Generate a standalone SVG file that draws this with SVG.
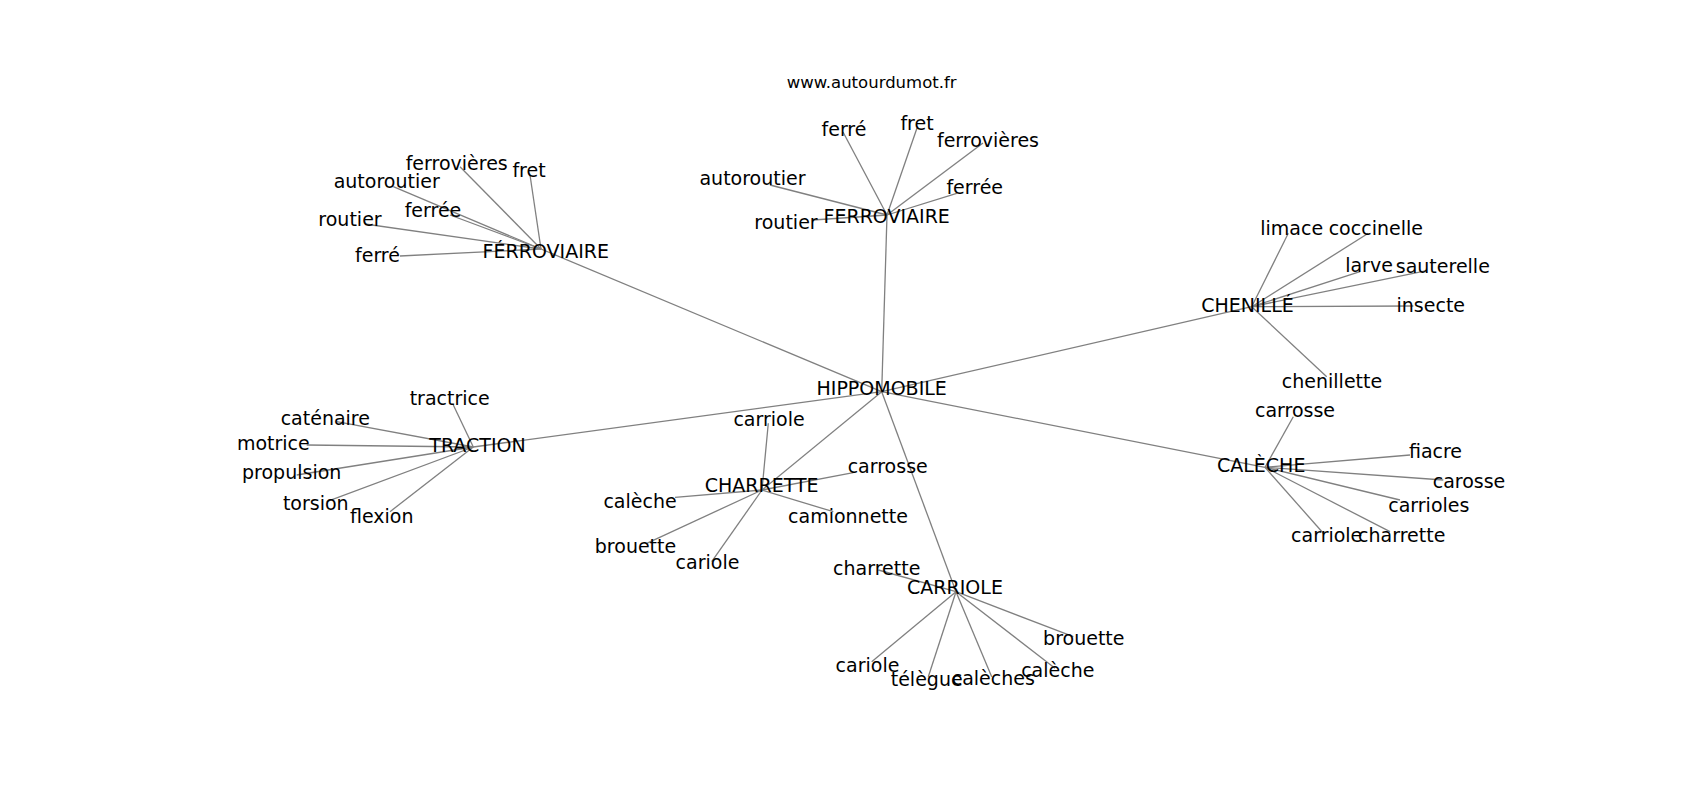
<svg xmlns="http://www.w3.org/2000/svg" width="1700" height="800" viewBox="0 0 1700 800">
<style>
.e line{stroke:#808080;stroke-width:1.3;fill:none}
text{font-family:"DejaVu Sans",sans-serif;font-size:19px;fill:#000;text-anchor:middle}
.t{font-size:16.5px}
</style>
<rect width="1700" height="800" fill="#fff"/>
<g id="connectors" class="e">
<line x1="881.7" y1="391.7" x2="887" y2="215"/>
<line x1="881.7" y1="391.7" x2="541" y2="249"/>
<line x1="881.7" y1="391.7" x2="1251.7" y2="306.7"/>
<line x1="881.7" y1="391.7" x2="1265" y2="467.3"/>
<line x1="881.7" y1="391.7" x2="473.3" y2="447"/>
<line x1="881.7" y1="391.7" x2="762" y2="490"/>
<line x1="881.7" y1="391.7" x2="956" y2="591.7"/>
<line x1="887" y1="215" x2="843" y2="132"/>
<line x1="887" y1="215" x2="917" y2="128"/>
<line x1="887" y1="215" x2="983" y2="143"/>
<line x1="887" y1="215" x2="770" y2="185"/>
<line x1="887" y1="215" x2="956.7" y2="193.3"/>
<line x1="887" y1="215" x2="813" y2="220"/>
<line x1="541" y1="249" x2="460" y2="166.7"/>
<line x1="541" y1="249" x2="530" y2="175"/>
<line x1="541" y1="249" x2="393.3" y2="186.7"/>
<line x1="541" y1="249" x2="450" y2="215"/>
<line x1="541" y1="249" x2="365" y2="224"/>
<line x1="541" y1="249" x2="400" y2="256"/>
<line x1="1251.7" y1="306.7" x2="1288.3" y2="233.3"/>
<line x1="1251.7" y1="306.7" x2="1368.3" y2="233.3"/>
<line x1="1251.7" y1="306.7" x2="1360" y2="271.7"/>
<line x1="1251.7" y1="306.7" x2="1426.7" y2="270.7"/>
<line x1="1251.7" y1="306.7" x2="1413.3" y2="306"/>
<line x1="1251.7" y1="306.7" x2="1326.7" y2="376.7"/>
<line x1="1265" y1="467.3" x2="1293.3" y2="416.7"/>
<line x1="1265" y1="467.3" x2="1410" y2="455"/>
<line x1="1265" y1="467.3" x2="1443.3" y2="480"/>
<line x1="1265" y1="467.3" x2="1400" y2="500"/>
<line x1="1265" y1="467.3" x2="1323.3" y2="533.3"/>
<line x1="1265" y1="467.3" x2="1390" y2="531.7"/>
<line x1="473.3" y1="447" x2="453.3" y2="405"/>
<line x1="473.3" y1="447" x2="336.7" y2="421.7"/>
<line x1="473.3" y1="447" x2="306.7" y2="445"/>
<line x1="473.3" y1="447" x2="296.7" y2="475"/>
<line x1="473.3" y1="447" x2="326.7" y2="501.7"/>
<line x1="473.3" y1="447" x2="390" y2="511.7"/>
<line x1="762" y1="490" x2="768.3" y2="423.3"/>
<line x1="762" y1="490" x2="853.3" y2="472.7"/>
<line x1="762" y1="490" x2="675" y2="497.3"/>
<line x1="762" y1="490" x2="833.3" y2="511.7"/>
<line x1="762" y1="490" x2="646.7" y2="543.3"/>
<line x1="762" y1="490" x2="711.7" y2="561.7"/>
<line x1="956" y1="591.7" x2="878.3" y2="570"/>
<line x1="956" y1="591.7" x2="1073.3" y2="636.7"/>
<line x1="956" y1="591.7" x2="871.7" y2="661.7"/>
<line x1="956" y1="591.7" x2="928.3" y2="676.7"/>
<line x1="956" y1="591.7" x2="991.7" y2="676.7"/>
<line x1="956" y1="591.7" x2="1055" y2="668.3"/>
</g>
<text class="t" x="871.7" y="88">www.autourdumot.fr</text>
<g id="n-hippomobile"><text x="881.7" y="395">HIPPOMOBILE</text></g>
<g id="n-ferroviaire1"><text x="886.7" y="222.7">FERROVIAIRE</text></g>
<g id="n-f1-ferre"><text x="844" y="135.5">ferré</text></g>
<g id="n-f1-fret"><text x="917" y="129.5">fret</text></g>
<g id="n-f1-ferrovieres"><text x="988" y="146.5">ferrovières</text></g>
<g id="n-f1-autoroutier"><text x="752.5" y="184.5">autoroutier</text></g>
<g id="n-f1-ferree"><text x="974.7" y="194">ferrée</text></g>
<g id="n-f1-routier"><text x="786" y="228.5">routier</text></g>
<g id="n-ferroviaire2"><text x="545.8" y="257.7">FÉRROVIAIRE</text></g>
<g id="n-f2-ferrovieres"><text x="456.7" y="170">ferrovières</text></g>
<g id="n-f2-fret"><text x="529" y="176.5">fret</text></g>
<g id="n-f2-autoroutier"><text x="386.7" y="188">autoroutier</text></g>
<g id="n-f2-ferree"><text x="433" y="216.5">ferrée</text></g>
<g id="n-f2-routier"><text x="350" y="225.5">routier</text></g>
<g id="n-f2-ferre"><text x="377.5" y="261.5">ferré</text></g>
<g id="n-chenille"><text x="1247.5" y="312">CHENILLÉ</text></g>
<g id="n-c-limace"><text x="1291.7" y="235">limace</text></g>
<g id="n-c-coccinelle"><text x="1375.8" y="235">coccinelle</text></g>
<g id="n-c-larve"><text x="1369" y="271.5">larve</text></g>
<g id="n-c-sauterelle"><text x="1442.8" y="272.5">sauterelle</text></g>
<g id="n-c-insecte"><text x="1430.8" y="311.5">insecte</text></g>
<g id="n-c-chenillette"><text x="1332" y="388">chenillette</text></g>
<g id="n-caleche"><text x="1261.2" y="472">CALÈCHE</text></g>
<g id="n-k-carrosse"><text x="1295" y="416.5">carrosse</text></g>
<g id="n-k-fiacre"><text x="1435.5" y="458">fiacre</text></g>
<g id="n-k-carosse"><text x="1469" y="488">carosse</text></g>
<g id="n-k-carrioles"><text x="1428.8" y="511.5">carrioles</text></g>
<g id="n-k-carriole"><text x="1326.7" y="541.5">carriole</text></g>
<g id="n-k-charrette"><text x="1401.7" y="541.5">charrette</text></g>
<g id="n-traction"><text x="477.5" y="452">TRACTION</text></g>
<g id="n-t-tractrice"><text x="449.7" y="405">tractrice</text></g>
<g id="n-t-catenaire"><text x="325.3" y="425">caténaire</text></g>
<g id="n-t-motrice"><text x="273.3" y="450">motrice</text></g>
<g id="n-t-propulsion"><text x="291.7" y="479">propulsion</text></g>
<g id="n-t-torsion"><text x="315.8" y="510">torsion</text></g>
<g id="n-t-flexion"><text x="381.7" y="522.5">flexion</text></g>
<g id="n-charrette"><text x="761.7" y="491.5">CHARRETTE</text></g>
<g id="n-h-carriole"><text x="769" y="426">carriole</text></g>
<g id="n-h-carrosse"><text x="887.7" y="473">carrosse</text></g>
<g id="n-h-caleche"><text x="640" y="508">calèche</text></g>
<g id="n-h-camionnette"><text x="848" y="522.5">camionnette</text></g>
<g id="n-h-brouette"><text x="635.5" y="553">brouette</text></g>
<g id="n-h-cariole"><text x="707.5" y="569">cariole</text></g>
<g id="n-carriole"><text x="955" y="593.5">CARRIOLE</text></g>
<g id="n-r-charrette"><text x="876.7" y="575">charrette</text></g>
<g id="n-r-brouette"><text x="1083.8" y="645">brouette</text></g>
<g id="n-r-cariole"><text x="867.5" y="671.5">cariole</text></g>
<g id="n-r-telegue"><text x="926.7" y="686">télègue</text></g>
<g id="n-r-caleches"><text x="993.3" y="685">calèches</text></g>
<g id="n-r-caleche"><text x="1057.8" y="677">calèche</text></g>
</svg>
